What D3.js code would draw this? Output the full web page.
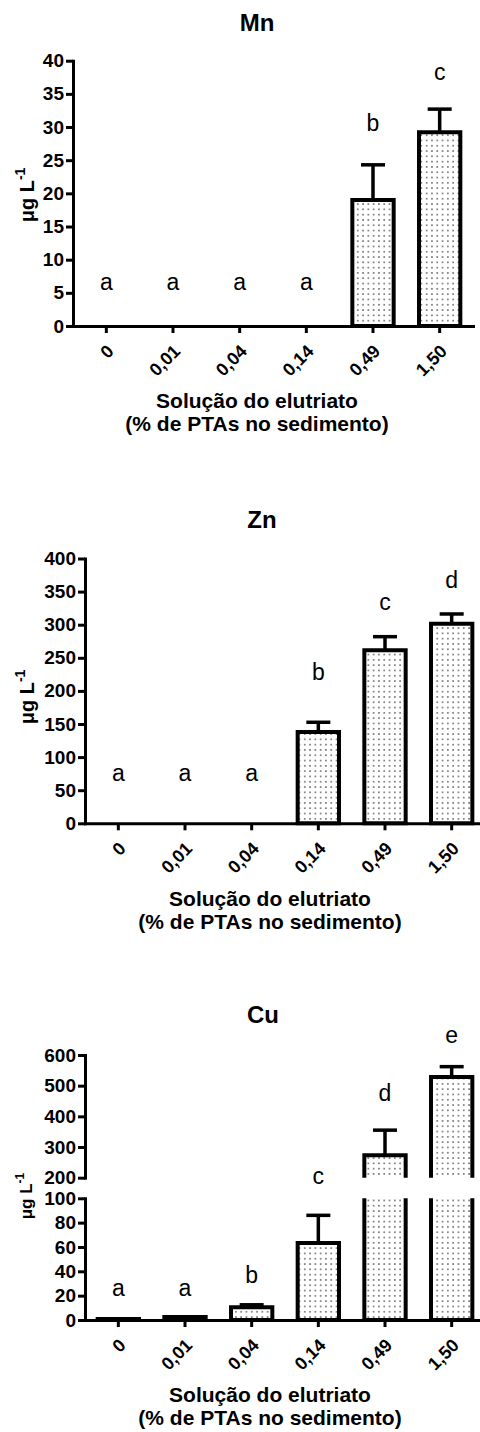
<!DOCTYPE html>
<html><head><meta charset="utf-8">
<script src="https://cdn.jsdelivr.net/npm/d3@7"></script>
<style>body{margin:0;background:#fff}svg{display:block}text{font-family:"Liberation Sans",Arial,sans-serif;fill:#000}</style>
</head><body><svg id="c" width="480" height="1432"></svg>
<script>
// ---------- data ----------
const categories = ["0","0,01","0,04","0,14","0,49","1,50"];
const xAxisTitle1 = "Solução do elutriato";
const xAxisTitle2 = "(% de PTAs no sedimento)";

const mnMean = [0,0,0,0,19.0,29.2];
const mnSD = [0,0,0,0,5.3,3.5];
const mnLetters = ["a","a","a","a","b","c"];
const mnLetterY = [6.6,6.6,6.6,6.6,30.6,38.3];
const mnTicks = [0,5,10,15,20,25,30,35,40];

const znMean = [0,0,0,137.9,261.3,301.5];
const znSD = [0,0,0,14.7,20.6,14.7];
const znLetters = ["a","a","a","b","c","d"];
const znLetterY = [75.5,75.5,75.5,229,334.7,367.5];
const znTicks = [0,50,100,150,200,250,300,350,400];

const cuMean = [0.8,2.5,10.5,63.3,273,528];
const cuSD = [0,0,2,22.7,82,34];
const cuLetters = ["a","a","b","c","d","e"];
const cuLetterY = [26,26,37,205,475,665];
const cuTicksLow = [0,20,40,60,80,100];
const cuTicksHigh = [200,300,400,500,600];

// ---------- drawing ----------
const svg = d3.select("#c");
svg.append("rect").attr("width",480).attr("height",1432).attr("fill","#fff");
const defs = svg.append("defs");
const pat = defs.append("pattern").attr("id","dots").attr("patternUnits","userSpaceOnUse")
  .attr("width",5.3).attr("height",5.3);
pat.append("rect").attr("width",5.3).attr("height",5.3).attr("fill","#fff");
pat.append("rect").attr("x",2).attr("y",2).attr("width",1.3).attr("height",1.3).attr("fill","#222");

function panel(p){
  const g = svg.append("g");
  const x = d3.scaleBand().domain(categories).range(p.xRange).paddingInner(0.38).paddingOuter(0.19);
  const bw = x.bandwidth();
  const segs = p.segs;
  function yf(v){
    for (let k=0;k<segs.length;k++){
      const s=segs[k];
      if (v<=s.hi || k===segs.length-1){
        if (v>=s.lo || k===0) return s.scale(v);
      }
      if (k<segs.length-1 && v>s.hi && v<segs[k+1].lo){
        const n=segs[k+1];
        const t=(v-s.hi)/(n.lo-s.hi);
        return s.scale(s.hi)+t*(n.scale(n.lo)-s.scale(s.hi));
      }
    }
    return segs[0].scale(v);
  }
  const data = categories.map((c,i)=>({c, v:p.mean[i], sd:p.sd[i], l:p.letters[i], ly:p.letterY[i]}));

  // bars (possibly broken); zero-valued bars are not drawn
  data.filter(d=>d.v>0).forEach(d=>{
    const x0 = x(d.c), x1 = x(d.c)+bw;
    segs.forEach((s,k)=>{
      if (d.v <= s.lo && k>0) return;
      const top = Math.min(d.v, s.hi);
      const yb = s.scale(s.lo), yt = s.scale(top);
      g.append("rect").attr("x",x0).attr("y",yt).attr("width",bw).attr("height",Math.max(0,yb-yt))
        .attr("fill","url(#dots)");
      let path;
      if (d.v <= s.hi){
        path = `M${x0},${yb}V${yt}H${x1}V${yb}` + (k===0?"Z":"");
      } else {
        path = `M${x0},${yb}V${yt}M${x1},${yt}V${yb}` + (k===0?`H${x0}`:"");
      }
      g.append("path").attr("d",path).attr("fill","none").attr("stroke","#000")
        .attr("stroke-width",4).attr("stroke-linejoin","miter");
    });
  });

  // error bars
  const eb = g.selectAll("g.err").data(data.filter(d=>d.sd>0)).join("g").attr("class","err");
  eb.append("line").attr("x1",d=>x(d.c)+bw/2).attr("x2",d=>x(d.c)+bw/2)
    .attr("y1",d=>yf(d.v)).attr("y2",d=>yf(d.v+d.sd)).attr("stroke","#000").attr("stroke-width",3.5);
  eb.append("line").attr("x1",d=>x(d.c)+bw/2-12).attr("x2",d=>x(d.c)+bw/2+12)
    .attr("y1",d=>yf(d.v+d.sd)).attr("y2",d=>yf(d.v+d.sd)).attr("stroke","#000").attr("stroke-width",3.5);

  // letters
  g.selectAll("text.let").data(data).join("text").attr("class","let")
    .attr("x",d=>x(d.c)+bw/2).attr("y",d=>yf(d.ly)).attr("dy","0.35em")
    .attr("text-anchor","middle").style("font-size","23px").text(d=>d.l);

  // y axes
  segs.forEach(s=>{
    const ax = g.append("g").attr("transform",`translate(${p.xRange[0]},0)`)
      .call(d3.axisLeft(s.scale).tickValues(s.ticks).tickSize(7).tickSizeOuter(0).tickPadding(2));
    ax.select(".domain").attr("stroke-width",3).attr("stroke-linecap","square");
    ax.selectAll(".tick line").attr("stroke-width",3);
    ax.selectAll(".tick text").style("font-size","19px").style("font-weight","bold").attr("fill","#000");
  });

  // x axis
  const xa = g.append("g").attr("transform",`translate(0,${yf(0)})`)
    .call(d3.axisBottom(x).tickSize(7).tickSizeOuter(0));
  xa.select(".domain").attr("stroke-width",3).attr("stroke-linecap","square");
  xa.selectAll(".tick line").attr("stroke-width",3);
  xa.selectAll(".tick text").attr("x",4).attr("y",22).attr("dy","0.35em")
    .attr("text-anchor","end").attr("transform","rotate(-45,4,22)")
    .style("font-size","18px").style("font-weight","bold").attr("fill","#000");

  // titles
  g.append("text").attr("x",p.titleX).attr("y",p.titleY).attr("dy","0.35em").attr("text-anchor","middle")
    .style("font-size","24px").style("font-weight","bold").text(p.title);
  g.append("text").attr("x",p.axX).attr("y",yf(0)+75).attr("dy","0.35em").attr("text-anchor","middle")
    .style("font-size","21px").style("font-weight","bold").text(xAxisTitle1);
  g.append("text").attr("x",p.axX).attr("y",yf(0)+98).attr("dy","0.35em").attr("text-anchor","middle")
    .style("font-size","21px").style("font-weight","bold").text(xAxisTitle2);

  const yl = g.append("text").attr("transform",`translate(${p.ylabX},${p.ylabY}) rotate(-90)`)
    .attr("text-anchor","middle").style("font-size",p.ylabSize+"px").style("font-weight","bold");
  yl.append("tspan").text("μg L");
  yl.append("tspan").attr("dy",-p.ylabSize*0.45).style("font-size",Math.round(p.ylabSize*0.68)+"px").text("-1");
}

panel({
  title:"Mn", titleX:257, titleY:23, axX:257,
  xRange:[73,473], mean:mnMean, sd:mnSD, letters:mnLetters, letterY:mnLetterY,
  segs:[{scale:d3.scaleLinear().domain([0,40]).range([326,60.7]), lo:0, hi:40, ticks:mnTicks}],
  ylabX:34, ylabY:195, ylabSize:20
});
panel({
  title:"Zn", titleX:262, titleY:520, axX:270,
  xRange:[85,485], mean:znMean, sd:znSD, letters:znLetters, letterY:znLetterY,
  segs:[{scale:d3.scaleLinear().domain([0,400]).range([823.3,558.5]), lo:0, hi:400, ticks:znTicks}],
  ylabX:34, ylabY:697, ylabSize:20
});
panel({
  title:"Cu", titleX:263, titleY:1015, axX:270,
  xRange:[85,485], mean:cuMean, sd:cuSD, letters:cuLetters, letterY:cuLetterY,
  segs:[
    {scale:d3.scaleLinear().domain([0,100]).range([1320,1198.3]), lo:0, hi:100, ticks:cuTicksLow},
    {scale:d3.scaleLinear().domain([200,600]).range([1177.7,1055]), lo:200, hi:600, ticks:cuTicksHigh}
  ],
  ylabX:32, ylabY:1196, ylabSize:17
});
</script></body></html>
